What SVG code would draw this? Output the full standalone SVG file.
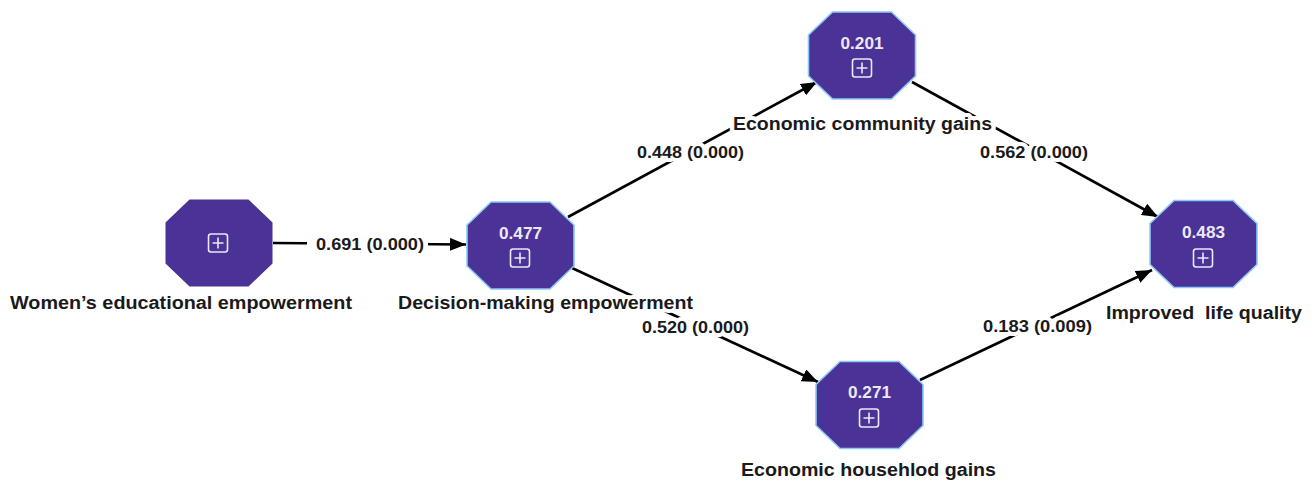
<svg xmlns="http://www.w3.org/2000/svg" xmlns:xlink="http://www.w3.org/1999/xlink" width="1313" height="482" viewBox="0 0 1313 482">
<style>
.bg{fill:#ffffff}
.oct{fill:#4B3297}
.oct.b{stroke:#8EC8F8;stroke-width:1.6}
.val{font-family:"Liberation Sans",Arial,sans-serif;font-weight:bold;font-size:16.5px;fill:#ECE8F6;text-anchor:middle}
.ico{fill:none;stroke:#ECE8F6;stroke-width:1.6}
.lbl{font-family:"Liberation Sans",Arial,sans-serif;font-weight:bold;font-size:17.5px;fill:#1a1a1a;stroke:#ffffff;stroke-width:8;stroke-linejoin:round;paint-order:stroke;white-space:pre}
.elbl{font-family:"Liberation Sans",Arial,sans-serif;font-weight:bold;font-size:16.5px;fill:#1a1a1a;stroke:#ffffff;stroke-width:8;stroke-linejoin:round;paint-order:stroke}
.edge{stroke:#000000;stroke-width:2.6;fill:none;marker-end:url(#arr)}
</style>
<defs>
<marker id="arr" viewBox="0 0 16 13" refX="16" refY="6.5" markerWidth="16" markerHeight="13" markerUnits="userSpaceOnUse" orient="auto">
<path d="M0,0 L16,6.5 L0,13 z" fill="#000000"/>
</marker>
<polygon id="octa" points="-29.5,-43.5 29.5,-43.5 53.5,-20.5 53.5,20.5 29.5,43.5 -29.5,43.5 -53.5,20.5 -53.5,-20.5"/>
<g id="plus">
<rect x="-9.5" y="-9" width="19" height="18" rx="2.5"/>
<path d="M-5.5,0 H5.5 M0,-5.5 V5.5"/>
</g>
</defs>
<rect class="bg" x="0" y="0" width="1313" height="482"/>

<g id="connectors">
<path class="edge" d="M273,243 L466,244.5"/>
<path class="edge" d="M568,217 L817,82"/>
<path class="edge" d="M912,82 L1158,217"/>
<path class="edge" d="M572,268 L818,382"/>
<path class="edge" d="M920,380 L1152,270"/>
</g>

<g id="node-womens-educational-empowerment">
<use xlink:href="#octa" class="oct" x="219" y="243"/>
<use xlink:href="#plus" class="ico" x="218" y="243"/>
<text class="lbl" x="10" y="309" textLength="342" lengthAdjust="spacingAndGlyphs">Women’s educational empowerment</text>
</g>

<g id="node-decision-making-empowerment">
<use xlink:href="#octa" class="oct b" x="520.5" y="245.5"/>
<text class="val" x="520.5" y="238.5" textLength="43" lengthAdjust="spacingAndGlyphs">0.477</text>
<use xlink:href="#plus" class="ico" x="520" y="258"/>
<text class="lbl" x="398" y="309" textLength="295" lengthAdjust="spacingAndGlyphs">Decision-making empowerment</text>
</g>

<g id="node-economic-community-gains">
<use xlink:href="#octa" class="oct b" x="862" y="55.5"/>
<text class="val" x="862" y="49" textLength="43" lengthAdjust="spacingAndGlyphs">0.201</text>
<use xlink:href="#plus" class="ico" x="862" y="68"/>
<text class="lbl" x="733" y="130" textLength="259" lengthAdjust="spacingAndGlyphs">Economic community gains</text>
</g>

<g id="node-improved-life-quality">
<use xlink:href="#octa" class="oct b" x="1203.5" y="244"/>
<text class="val" x="1203.5" y="238" textLength="43" lengthAdjust="spacingAndGlyphs">0.483</text>
<use xlink:href="#plus" class="ico" x="1203" y="258"/>
<text class="lbl" x="1106" y="319" textLength="196" lengthAdjust="spacingAndGlyphs" xml:space="preserve">Improved  life quality</text>
</g>

<g id="node-economic-household-gains">
<use xlink:href="#octa" class="oct b" x="869.5" y="405"/>
<text class="val" x="869.5" y="398" textLength="43" lengthAdjust="spacingAndGlyphs">0.271</text>
<use xlink:href="#plus" class="ico" x="869" y="418"/>
<text class="lbl" x="741" y="476" textLength="255" lengthAdjust="spacingAndGlyphs">Economic househlod gains</text>
</g>

<g id="edge-labels">
<rect class="bg" x="307" y="237" width="121" height="15"/>
<rect class="bg" x="637" y="146" width="107" height="12"/>
<rect class="bg" x="980" y="146" width="108" height="12"/>
<rect class="bg" x="642" y="321" width="107" height="12"/>
<rect class="bg" x="983" y="320" width="109" height="12"/>
<text class="elbl" x="316" y="250" textLength="108" lengthAdjust="spacingAndGlyphs">0.691 (0.000)</text>
<text class="elbl" x="637" y="158" textLength="107" lengthAdjust="spacingAndGlyphs">0.448 (0.000)</text>
<text class="elbl" x="980" y="158" textLength="108" lengthAdjust="spacingAndGlyphs">0.562 (0.000)</text>
<text class="elbl" x="642" y="333" textLength="107" lengthAdjust="spacingAndGlyphs">0.520 (0.000)</text>
<text class="elbl" x="983" y="332" textLength="109" lengthAdjust="spacingAndGlyphs">0.183 (0.009)</text>
</g>
</svg>
